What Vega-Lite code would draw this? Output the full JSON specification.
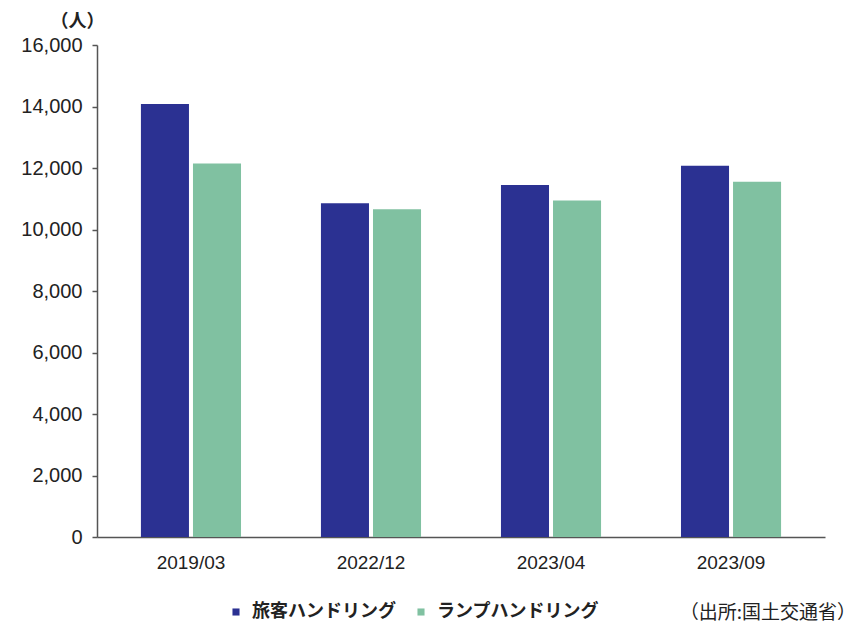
{
  "$schema": "https://vega.github.io/schema/vega-lite/v6.json",
  "width": 728,
  "height": 492,
  "autosize": {"type": "none"},
  "padding": {"left": 97, "top": 45, "right": 36, "bottom": 87},
  "background": "white",
  "config": {"view": {"stroke": null}, "font": "Liberation Sans"},
  "title": {
    "text": "（出所:国土交通省）",
    "orient": "bottom",
    "anchor": "end",
    "font": "Noto Sans CJK JP",
    "fontSize": 19,
    "fontWeight": "normal",
    "color": "#222",
    "offset": 0,
    "dx": 31,
    "dy": -17
  },
  "data": {
    "values": [
      {"period": "2019/03", "type": "旅客ハンドリング", "value": 14080},
      {"period": "2019/03", "type": "ランプハンドリング", "value": 12150},
      {"period": "2022/12", "type": "旅客ハンドリング", "value": 10850},
      {"period": "2022/12", "type": "ランプハンドリング", "value": 10660},
      {"period": "2023/04", "type": "旅客ハンドリング", "value": 11450},
      {"period": "2023/04", "type": "ランプハンドリング", "value": 10940},
      {"period": "2023/09", "type": "旅客ハンドリング", "value": 12070},
      {"period": "2023/09", "type": "ランプハンドリング", "value": 11550}
    ]
  },
  "mark": {"type": "bar"},
  "encoding": {
    "x": {
      "field": "period",
      "type": "nominal",
      "scale": {"paddingInner": 0.444, "paddingOuter": 0.244},
      "axis": {
        "title": null,
        "labelAngle": 0,
        "ticks": false,
        "labelPadding": 16,
        "labelFontSize": 19,
        "labelColor": "#222",
        "domainColor": "#555",
        "domainWidth": 1.5
      }
    },
    "xOffset": {
      "field": "type",
      "type": "nominal",
      "sort": ["旅客ハンドリング", "ランプハンドリング"],
      "scale": {"paddingInner": 0.077}
    },
    "y": {
      "field": "value",
      "type": "quantitative",
      "scale": {"domain": [0, 16000]},
      "axis": {
        "title": "（人）",
        "titleAngle": 0,
        "titleX": -20,
        "titleY": -24,
        "titleAlign": "center",
        "titleBaseline": "middle",
        "titleFont": "Noto Sans CJK JP",
        "titleFontSize": 18,
        "titleFontWeight": "bold",
        "titleColor": "#222",
        "values": [0, 2000, 4000, 6000, 8000, 10000, 12000, 14000, 16000],
        "format": ",d",
        "grid": false,
        "tickSize": 5,
        "tickColor": "#555",
        "tickWidth": 1.5,
        "labelPadding": 10,
        "labelFontSize": 20,
        "labelColor": "#222",
        "domainColor": "#555",
        "domainWidth": 1.5
      }
    },
    "color": {
      "field": "type",
      "type": "nominal",
      "sort": ["旅客ハンドリング", "ランプハンドリング"],
      "scale": {"range": ["#2b3192", "#80c1a1"]},
      "legend": {
        "title": null,
        "orient": "none",
        "direction": "horizontal",
        "legendX": 130,
        "legendY": 558,
        "symbolType": "square",
        "symbolSize": 50,
        "labelOffset": 7,
        "columnPadding": 16,
        "labelLimit": 400,
        "labelFont": "Noto Sans CJK JP",
        "labelFontSize": 18,
        "labelFontWeight": "bold",
        "labelColor": "#222"
      }
    }
  }
}
